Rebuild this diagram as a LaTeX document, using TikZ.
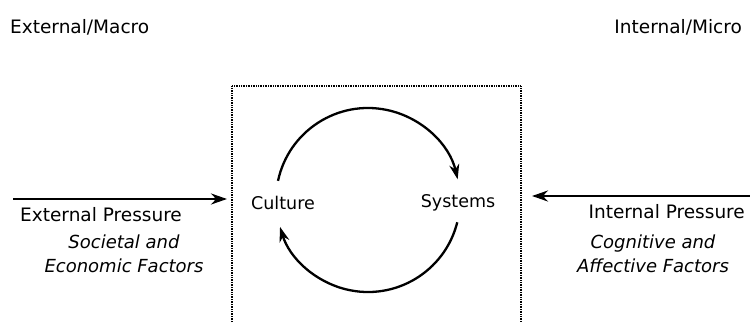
\documentclass[tikz,border=0pt]{standalone}
\usepackage{fontspec}
\setmainfont{DejaVu Sans}
\usetikzlibrary{arrows.meta}
\begin{document}
\begin{tikzpicture}[x=1pt,y=1pt,
  lbl/.style={inner sep=0pt,font=\fontsize{18.5}{20}\selectfont},
  itl/.style={inner sep=0pt,align=center,font=\fontsize{18}{24}\selectfont\itshape},
  frame/.style={line width=1.3pt,dash pattern=on 1pt off 0.7pt},
  push/.style={line width=2.8pt,-{Stealth[length=16pt,width=11pt]}},
  cyc/.style={line width=2.3pt,-{Stealth[length=15pt,width=10pt]}}]
\useasboundingbox (0,0) rectangle (750,322);
% frame
\draw[frame] (232,0) -- (232,236) -- (521,236) -- (521,0);
% top labels
\node[lbl,anchor=base west] (ext) at (10,288) {External/Macro};
\node[lbl,anchor=base east] (int) at (742,288) {Internal/Micro};
% centre nodes
\node[lbl,font=\fontsize{17.5}{20}\selectfont] (culture) at (283,119) {Culture};
\node[lbl,font=\fontsize{17.5}{20}\selectfont] (systems) at (458,119) {Systems};
\coordinate (ctr) at (368,122);
\draw[cyc] (ctr) ++(168:92) arc[start angle=168,end angle=13,radius=92];
\draw[cyc] (ctr) ++(-14:92) arc[start angle=-14,end angle=-163,radius=92];
% pressures
\coordinate (lstart) at (13,123);
\coordinate (lend) at (227,123);
\draw[push] (lstart) -- (lend);
\coordinate (rstart) at (750,126);
\coordinate (rend) at (532,126);
\draw[push] (rstart) -- (rend);
\node[lbl,anchor=base west] (ep) at (20,101) {External Pressure};
\node[lbl,anchor=base east] (ip) at (745,104) {Internal Pressure};
\node[itl,anchor=north] (sef) at (124,87) {Societal and\\Economic Factors};
\node[itl,anchor=north] (caf) at (653,87) {Cognitive and\\Affective Factors};
\end{tikzpicture}
\end{document}
